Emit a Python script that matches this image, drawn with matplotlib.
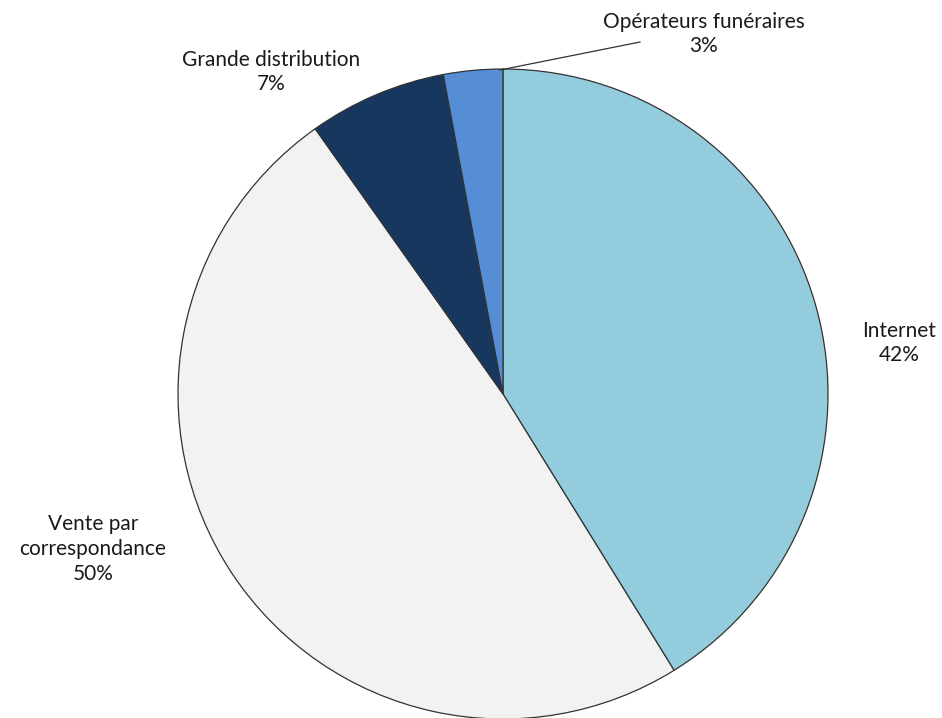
import matplotlib.pyplot as plt

# parts de marché par canal (valeurs affichées)
canaux = ['Internet', 'Vente par\ncorrespondance', 'Grande distribution', 'Opérateurs funéraires']
parts = [42, 50, 7, 3]
couleurs = ['#93CDDD', '#F2F2F2', '#17375E', '#558ED5']

# position des étiquettes (pixels)
pos_labels = [(899, 343), (93, 549), (271, 72), (704, 34)]

plt.rcParams['font.family'] = ['Lato', 'DejaVu Sans']

fig = plt.figure(figsize=(9.42, 7.18), dpi=100)
ax = fig.add_axes([0, 0, 1, 1])

ax.pie(parts, colors=couleurs, startangle=90, counterclock=False,
       center=(503, 718 - 394), radius=325, frame=True,
       wedgeprops=dict(edgecolor='#333333', linewidth=0.9))
ax.set_xlim(0, 942)
ax.set_ylim(0, 718)
ax.set_aspect('equal')
ax.axis('off')

for nom, p, (x, y) in zip(canaux, parts, pos_labels):
    ax.text(x, 718 - y, f'{nom}\n{p}%', ha='center', va='center',
            fontsize=15, color='#1a1a1a', linespacing=1.3)

# trait de rappel pour la petite part
ax.plot([500, 640], [718 - 70, 718 - 42], color='#333333', linewidth=0.9)

fig.savefig('out.png', dpi=100)
